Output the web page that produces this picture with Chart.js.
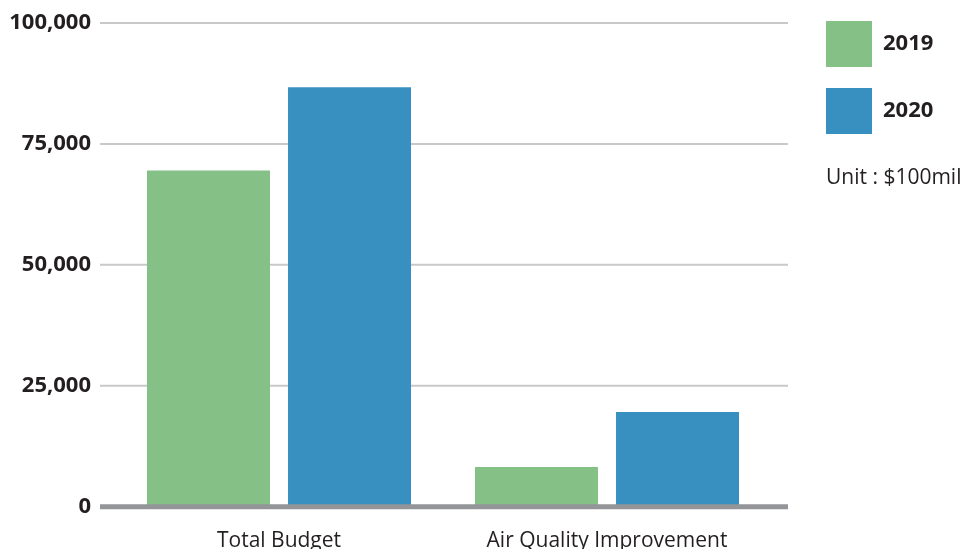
<!DOCTYPE html>
<html>
<head>
<meta charset="utf-8">
<script src="https://cdn.jsdelivr.net/npm/chart.js@4"></script>
<style>
  html, body { margin: 0; padding: 0; background: #fff; }
  #wrap { width: 965px; height: 549px; position: relative; }
</style>
</head>
<body>
<div id="wrap"><canvas id="chart1"></canvas></div>
<script>
/** Data */
const categories = ['Total Budget', 'Air Quality Improvement'];
const seriesLabels = ['2019', '2020'];
const values2019 = [69500, 8200];
const values2020 = [86700, 19600];
const unitNote = 'Unit : $100mil';

const colors = ['#85c087', '#3790c0'];
const textColor = '#231f20';

Chart.defaults.font.family = '"Open Sans", "Noto Sans", sans-serif';
Chart.defaults.color = textColor;

/** Grid lines wider than the plot area, zero line on top of the bars */
const gridPlugin = {
    id: 'gridLines',
    beforeDatasetsDraw(chart) {
        const ctx = chart.ctx;
        const y = chart.scales.y;
        ctx.save();
        ctx.strokeStyle = '#c8c9cb';
        ctx.lineWidth = 2;
        y.ticks.forEach(t => {
            if (t.value === 0) return;
            const py = y.getPixelForValue(t.value);
            ctx.beginPath();
            ctx.moveTo(100, py);
            ctx.lineTo(788, py);
            ctx.stroke();
        });
        ctx.restore();
    },
    afterDatasetsDraw(chart) {
        const ctx = chart.ctx;
        const py = chart.scales.y.getPixelForValue(0);
        ctx.save();
        ctx.strokeStyle = '#949598';
        ctx.lineWidth = 5;
        ctx.beginPath();
        ctx.moveTo(100, py);
        ctx.lineTo(788, py);
        ctx.stroke();
        ctx.restore();
    }
};

/** Legend drawn at the right side */
const legendPlugin = {
    id: 'sideLegend',
    afterDraw(chart) {
        const ctx = chart.ctx;
        ctx.save();
        chart.data.datasets.forEach((ds, i) => {
            const top = 21 + i * 67;
            ctx.fillStyle = ds.backgroundColor;
            ctx.fillRect(826, top, 46, 46);
            ctx.fillStyle = textColor;
            ctx.font = 'bold 22px "Open Sans"';
            ctx.textBaseline = 'middle';
            ctx.textAlign = 'left';
            ctx.fillText(ds.label, 883, top + 23);
        });
        ctx.font = '21px "Open Sans"';
        ctx.fillText(unitNote, 826, 178);
        ctx.restore();
    }
};

new Chart(document.getElementById('chart1'), {
    type: 'bar',
    data: {
        labels: categories,
        datasets: [{
            label: seriesLabels[0],
            data: values2019,
            backgroundColor: colors[0]
        }, {
            label: seriesLabels[1],
            data: values2020,
            backgroundColor: colors[1]
        }]
    },
    options: {
        responsive: true,
        maintainAspectRatio: false,
        animation: false,
        categoryPercentage: 0.86,
        barPercentage: 0.872,
        layout: {
            padding: { top: 23, right: 194, bottom: 0, left: 0 }
        },
        plugins: {
            legend: { display: false },
            tooltip: { enabled: false }
        },
        scales: {
            x: {
                grid: { display: false },
                border: { display: false },
                ticks: {
                    font: { size: 21 },
                    padding: 14
                },
                afterFit: s => { s.height = 42.3; }
            },
            y: {
                min: 0,
                max: 100000,
                grid: { display: false },
                border: { display: false },
                ticks: {
                    stepSize: 25000,
                    padding: 16,
                    font: { size: 22, weight: 'bold' },
                    callback: v => v.toLocaleString('en-US')
                },
                afterFit: s => {
                    s.width = 115;
                    s.paddingTop = 0;
                    s.paddingBottom = 0;
                }
            }
        }
    },
    plugins: [gridPlugin, legendPlugin]
});
</script>
</body>
</html>
